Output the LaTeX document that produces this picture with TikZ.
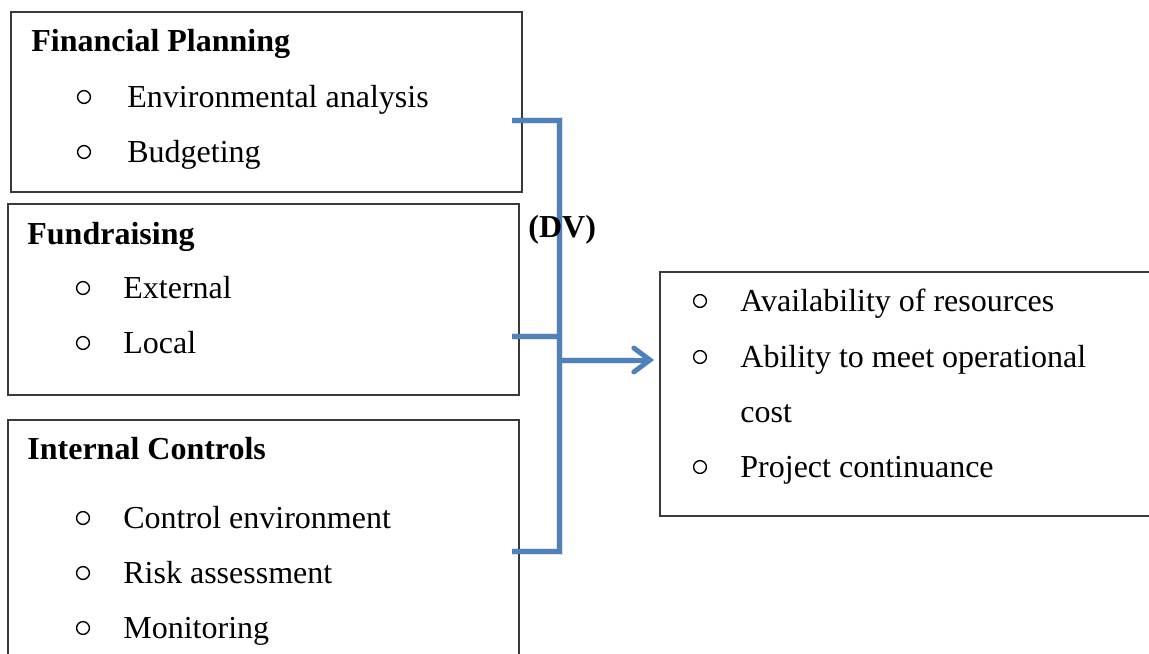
\documentclass[tikz,border=0pt]{standalone}
\usepackage{fontspec}
\setmainfont{Liberation Serif}
\usetikzlibrary{arrows.meta}
\definecolor{linkblue}{HTML}{4F81BD}
\definecolor{frame}{HTML}{3A3A3A}
\begin{document}
\begin{tikzpicture}[x=0.5pt,y=-0.5pt,
  panel/.style={draw=frame,line width=0.75pt,rectangle,anchor=north west,inner sep=0pt},
  txt/.style={anchor=base west,inner sep=0pt,font=\fontsize{16}{19}\selectfont},
  head/.style={txt,font=\fontsize{16}{19}\selectfont\bfseries},
  dot/.style={circle,draw=black,line width=0.7pt,minimum size=6.4pt,inner sep=0pt,yshift=5pt},
  link/.style={draw=linkblue,line width=2.5pt,line cap=butt,line join=miter},
  haze/.style={draw=black,opacity=0.10,line width=3.5pt,line join=miter}]
\clip (0,0) rectangle (1149,653);
\useasboundingbox (0,0) rectangle (1149,653);
\fill[white] (0,0) rectangle (1149,653);

% independent-variable panels
\node[panel,minimum width=255.5pt,minimum height=90pt] (fp) at (10,11) {};
\node[panel,minimum width=255.5pt,minimum height=95.5pt] (fr) at (7,203) {};
\node[panel,minimum width=255.5pt,minimum height=130pt] (ic) at (7,419) {};
% outcome panel
\node[panel,minimum width=260pt,minimum height=122pt] (out) at (659,271) {};

% Financial Planning
\node[head] (fph) at (31,51) {Financial Planning};
\node[dot] (fpb1) at (84,107) {};
\node[txt] (fpt1) at (127,107) {Environmental analysis};
\node[dot] (fpb2) at (84,162) {};
\node[txt] (fpt2) at (127,162) {Budgeting};

% Fundraising
\node[head] (frh) at (27,244) {Fundraising};
\node[dot] (frb1) at (83,298) {};
\node[txt] (frt1) at (123,298) {External};
\node[dot] (frb2) at (83,353) {};
\node[txt] (frt2) at (123,353) {Local};

% Internal Controls
\node[head] (ich) at (27,459) {Internal Controls};
\node[dot] (icb1) at (83,528) {};
\node[txt] (ict1) at (123,528) {Control environment};
\node[dot] (icb2) at (83,583) {};
\node[txt] (ict2) at (123,583) {Risk assessment};
\node[dot] (icb3) at (83,638) {};
\node[txt] (ict3) at (123,638) {Monitoring};

% outcomes
\node[dot] (ob1) at (700,311) {};
\node[txt] (ot1) at (740,311) {Availability of resources};
\node[dot] (ob2) at (700,367) {};
\node[txt] (ot2) at (740,367) {Ability to meet operational};
\node[txt] (ot2b) at (740,422) {cost};
\node[dot] (ob3) at (700,477) {};
\node[txt] (ot3) at (740,477) {Project continuance};

% bracket joining the three panels
\coordinate (t1) at (512,120);
\coordinate (t2) at (512,336);
\coordinate (t3) at (512,551);
\coordinate (c1) at (559,120);
\coordinate (c2) at (559,336);
\coordinate (c3) at (559,551);
\coordinate (j) at (559,360);

\begin{scope}[shift={(2,3)}]
  \draw[haze] (t1) -- (c1) -- (c3) -- (t3);
  \draw[haze] (t2) -- (c2);
  \draw[haze] (j) -- ([xshift=-12pt]j -| out.west);
\end{scope}

\draw[link] (t1) -- (c1) -- (c3) -- (t3);
\draw[link] (t2) -- (c2);
\draw[link,-{Straight Barb[length=8pt,width=12pt,line cap=round]},shorten >=2.5pt] (j) -- (j -| out.west);

\node[head] (dv) at (528,237) {(DV)};
\end{tikzpicture}
\end{document}
